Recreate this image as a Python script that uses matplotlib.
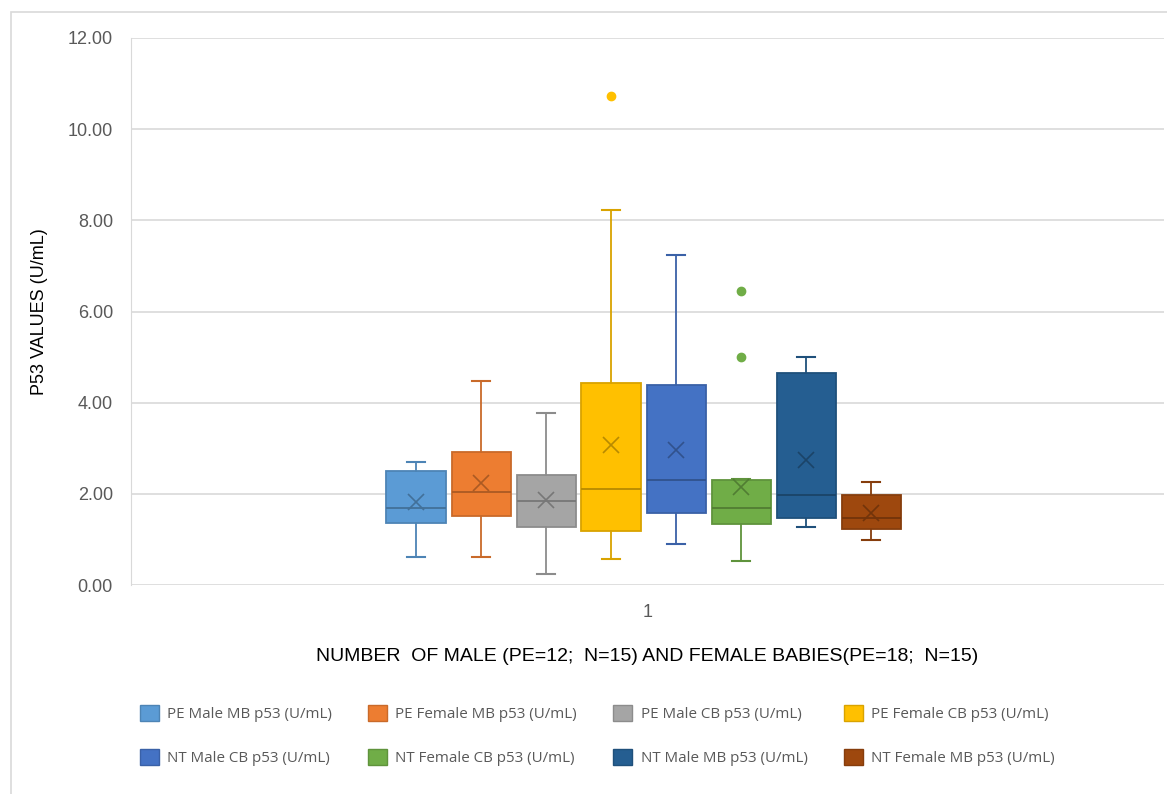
import matplotlib
matplotlib.use('Agg')
import matplotlib.pyplot as plt
from matplotlib.patches import Patch, Rectangle
import matplotlib.colors as mcolors

# Series names as in the Excel legend
series = ['PE Male MB p53 (U/mL)', 'PE Female MB p53 (U/mL)', 'PE Male CB p53 (U/mL)',
          'PE Female CB p53 (U/mL)', 'NT Male CB p53 (U/mL)', 'NT Female CB p53 (U/mL)',
          'NT Male MB p53 (U/mL)', 'NT Female MB p53 (U/mL)']
colors = ['#5B9BD5', '#ED7D31', '#A5A5A5', '#FFC000', '#4472C4', '#70AD47', '#255E91', '#9E480E']

# Box statistics
whis_lo = [0.61, 0.61, 0.24, 0.56, 0.90, 0.53, 1.27, 0.98]
q1 = [1.35, 1.51, 1.27, 1.18, 1.59, 1.34, 1.47, 1.22]
median = [1.68, 2.05, 1.85, 2.10, 2.30, 1.68, 1.97, 1.48]
q3 = [2.51, 2.92, 2.41, 4.44, 4.39, 2.30, 4.64, 1.97]
whis_hi = [2.70, 4.47, 3.77, 8.22, 7.23, 2.33, 5.01, 2.25]
means = [1.82, 2.24, 1.86, 3.07, 2.96, 2.14, 2.74, 1.57]
outliers = [[], [], [], [10.72], [], [6.45, 5.01], [], []]

yticks = [0, 2, 4, 6, 8, 10, 12]

axis_font = 'Liberation Sans'
legend_font = 'Open Sans'


def darker(c, f=0.8):
    r, g, b = mcolors.to_rgb(c)
    return (r * f, g * f, b * f)


fig = plt.figure(figsize=(11.67, 7.94), dpi=100)
ax = fig.add_axes([131 / 1167, 1 - 585 / 794, (1164 - 131) / 1167, (585 - 38) / 794])

# chart border (cut by image edge on right/bottom)
fig.patches.append(Rectangle((11 / 1167, -0.1), 1.2, 1 - 12 / 794 + 0.1, transform=fig.transFigure,
                             fill=False, edgecolor='#D9D9D9', linewidth=1.2))

step = 65 / 1033
box_w = 59 / 1033
n = len(series)
handles = []
for i in range(n):
    pos = 1 + (i - (n - 1) / 2) * step - 4 / 1033
    st = dict(med=median[i], q1=q1[i], q3=q3[i], whislo=whis_lo[i], whishi=whis_hi[i],
              mean=means[i], fliers=outliers[i], label=series[i])
    edge = darker(colors[i], 0.85)
    dk = darker(colors[i], 0.72)
    ax.bxp([st], positions=[pos], widths=box_w, capwidths=box_w * 0.32, patch_artist=True,
           showmeans=True, showfliers=True,
           boxprops=dict(facecolor=colors[i], edgecolor=edge, linewidth=1.3),
           medianprops=dict(color=dk, linewidth=1.3),
           whiskerprops=dict(color=edge, linewidth=1.3),
           capprops=dict(color=edge, linewidth=1.5),
           meanprops=dict(marker='x', markersize=12, markeredgecolor=dk, markeredgewidth=1.2),
           flierprops=dict(marker='o', markersize=6, markerfacecolor=colors[i],
                           markeredgecolor=colors[i]),
           zorder=3)
    handles.append(Patch(facecolor=colors[i], edgecolor=edge, label=series[i]))

ax.set_xlim(0.5, 1.5)
ax.set_ylim(0, 12)
ax.set_yticks(yticks)
ax.set_yticklabels([f'{v:.2f}' for v in yticks])
ax.set_xticks([1])
ax.set_xticklabels(['1'])
ax.grid(axis='y', color='#D9D9D9', linewidth=1.2, zorder=0)
ax.set_axisbelow(True)
for s in ['top', 'right', 'bottom']:
    ax.spines[s].set_visible(False)
ax.spines['left'].set_color('#D9D9D9')
ax.tick_params(length=0, labelcolor='#595959', labelsize=13)
for lab in ax.get_yticklabels() + ax.get_xticklabels():
    lab.set_family(axis_font)
ax.tick_params(axis='y', pad=13)
ax.tick_params(axis='x', pad=14)

ax.set_ylabel('P53 VALUES (U/mL)', family=axis_font, fontsize=13, color='black', labelpad=14)
ax.set_xlabel('NUMBER  OF MALE (PE=12;  N=15) AND FEMALE BABIES(PE=18;  N=15)',
              family=axis_font, fontsize=14, color='black', labelpad=19)

# Excel fills legend row by row; matplotlib fills columns, so reorder
order = [0, 4, 1, 5, 2, 6, 3, 7]
leg = fig.legend([handles[k] for k in order], [series[k] for k in order],
                 loc='upper left', bbox_to_anchor=(126 / 1167, 1 - 691 / 794), ncol=4,
                 frameon=False, prop={'family': legend_font, 'size': 10.9},
                 handlelength=1.25, handleheight=1.25, handletextpad=0.55,
                 columnspacing=2.4, labelspacing=1.8, labelcolor='#595959')

fig.savefig('out.png', dpi=100)
